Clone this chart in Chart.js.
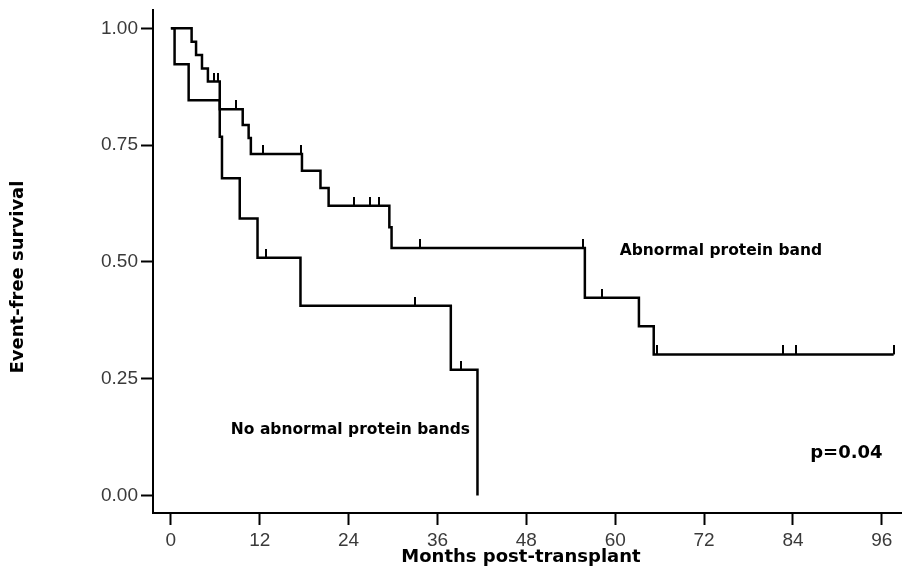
<!DOCTYPE html>
<html>
<head>
<meta charset="utf-8">
<script src="https://cdn.jsdelivr.net/npm/chart.js@4.4.0/dist/chart.umd.min.js"></script>
<style>
  html, body { margin: 0; padding: 0; background: #ffffff; }
  canvas { display: block; }
</style>
</head>
<body>
<canvas id="km" width="906" height="571"></canvas>
<script>
// ---------------- DATA ----------------
const xTickValues = [0, 12, 24, 36, 48, 60, 72, 84, 96];
const yTickValues = [0, 0.25, 0.5, 0.75, 1];

// Abnormal protein band (Kaplan-Meier steps: event time in months, survival after event)
const abnTimes = [0, 2.8, 3.4, 4.2, 5.0, 6.6, 9.7, 10.5, 10.8, 17.7, 20.2, 21.3, 29.5, 29.8, 55.9, 63.2, 65.2, 97.6];
const abnSurv  = [1.0, 0.971, 0.943, 0.914, 0.886, 0.827, 0.793, 0.765, 0.731, 0.695, 0.658, 0.620, 0.574, 0.530, 0.423, 0.362, 0.302, 0.302];
const abnCensorTimes = [5.8, 6.3, 8.8, 12.4, 17.6, 24.7, 26.9, 28.1, 33.7, 55.6, 58.2, 65.7, 82.7, 84.4, 97.6];
const abnCensorSurv  = [0.886, 0.886, 0.827, 0.731, 0.731, 0.620, 0.620, 0.620, 0.530, 0.530, 0.423, 0.302, 0.302, 0.302, 0.302];

// No abnormal protein bands
const noTimes = [0, 0.5, 2.4, 6.6, 6.9, 9.3, 11.7, 17.5, 37.8, 41.4];
const noSurv  = [1.0, 0.923, 0.846, 0.768, 0.679, 0.593, 0.509, 0.406, 0.269, 0.0];
const noCensorTimes = [12.8, 33.0, 39.2];
const noCensorSurv  = [0.509, 0.406, 0.269];

// Text labels placed in data units
const noteTexts = ['Abnormal protein band', 'No abnormal protein bands', 'p=0.04'];
const noteMonths = [60.6, 8.1, 96.1];
const noteSurv = [0.524, 0.140, 0.090];
const noteAlign = ['left', 'left', 'right'];
const noteSize = [15.5, 15.5, 18];

const xTitle = 'Months post-transplant';
const yTitle = 'Event-free survival';

// ---------------- HELPERS ----------------
const toPoints = (xs, ys) => xs.map((t, i) => ({ x: t, y: ys[i] }));

function censorMark() {
  const c = document.createElement('canvas');
  c.width = 2; c.height = 18;
  const g = c.getContext('2d');
  g.fillStyle = '#000';
  g.fillRect(0, 0, 2, 9);
  return c;
}
const mark = censorMark();

const textPlugin = {
  id: 'kmText',
  afterDraw(chart) {
    const { ctx } = chart;
    const xs = chart.scales.x, ys = chart.scales.y;
    ctx.save();
    ctx.fillStyle = '#000';
    ctx.textBaseline = 'middle';
    noteTexts.forEach((t, i) => {
      ctx.font = 'bold ' + noteSize[i] + 'px "DejaVu Sans"';
      ctx.textAlign = noteAlign[i];
      ctx.fillText(t, xs.getPixelForValue(noteMonths[i]), ys.getPixelForValue(noteSurv[i]));
    });
    // axis titles
    ctx.font = 'bold 18px "DejaVu Sans"';
    ctx.textAlign = 'center';
    ctx.fillText(xTitle, 521, 557);
    ctx.translate(18, 277);
    ctx.rotate(-Math.PI / 2);
    ctx.fillText(yTitle, 0, 0);
    ctx.restore();
  }
};

const tickFont = { family: '"Liberation Sans", Arial, sans-serif', size: 19 };

new Chart(document.getElementById('km'), {
  type: 'line',
  data: {
    datasets: [
      {
        label: 'Abnormal protein band',
        data: toPoints(abnTimes, abnSurv),
        stepped: 'before',
        borderColor: '#000', borderWidth: 2.5,
        pointRadius: 0, fill: false
      },
      {
        label: 'No abnormal protein bands',
        data: toPoints(noTimes, noSurv),
        stepped: 'before',
        borderColor: '#000', borderWidth: 2.5,
        pointRadius: 0, fill: false
      },
      {
        label: 'Abnormal censored',
        type: 'scatter',
        data: toPoints(abnCensorTimes, abnCensorSurv),
        showLine: false,
        pointStyle: mark, pointRadius: 3
      },
      {
        label: 'No abnormal censored',
        type: 'scatter',
        data: toPoints(noCensorTimes, noCensorSurv),
        showLine: false,
        pointStyle: mark, pointRadius: 3
      }
    ]
  },
  options: {
    responsive: false,
    animation: false,
    devicePixelRatio: 1,
    layout: { padding: { top: 10, left: 0, right: 0, bottom: 0 } },
    plugins: { legend: { display: false }, tooltip: { enabled: false } },
    scales: {
      x: {
        type: 'linear',
        min: -2.414, max: 98.59,
        afterBuildTicks: s => { s.ticks = xTickValues.map(v => ({ value: v })); },
        afterFit: s => { s.height = 58; s.paddingLeft = 0; s.paddingRight = 0; },
        ticks: { color: '#3a3a3a', font: tickFont, padding: 4, maxRotation: 0, autoSkip: false,
                 callback: v => String(v) },
        grid: { display: true, drawOnChartArea: false, drawTicks: true, tickLength: 12,
                tickWidth: 2, tickColor: '#000', color: '#000' },
        border: { display: true, color: '#000', width: 2 },
        title: { display: false }
      },
      y: {
        type: 'linear',
        min: -0.0375, max: 1.0392,
        afterBuildTicks: s => { s.ticks = yTickValues.map(v => ({ value: v })); },
        afterFit: s => { s.width = 153; s.paddingTop = 0; s.paddingBottom = 0; },
        ticks: { color: '#3a3a3a', font: tickFont, padding: 3, autoSkip: false,
                 callback: v => Number(v).toFixed(2) },
        grid: { display: true, drawOnChartArea: false, drawTicks: true, tickLength: 12,
                tickWidth: 2, tickColor: '#000', color: '#000' },
        border: { display: true, color: '#000', width: 2 },
        title: { display: false }
      }
    }
  },
  plugins: [textPlugin]
});
</script>
</body>
</html>
